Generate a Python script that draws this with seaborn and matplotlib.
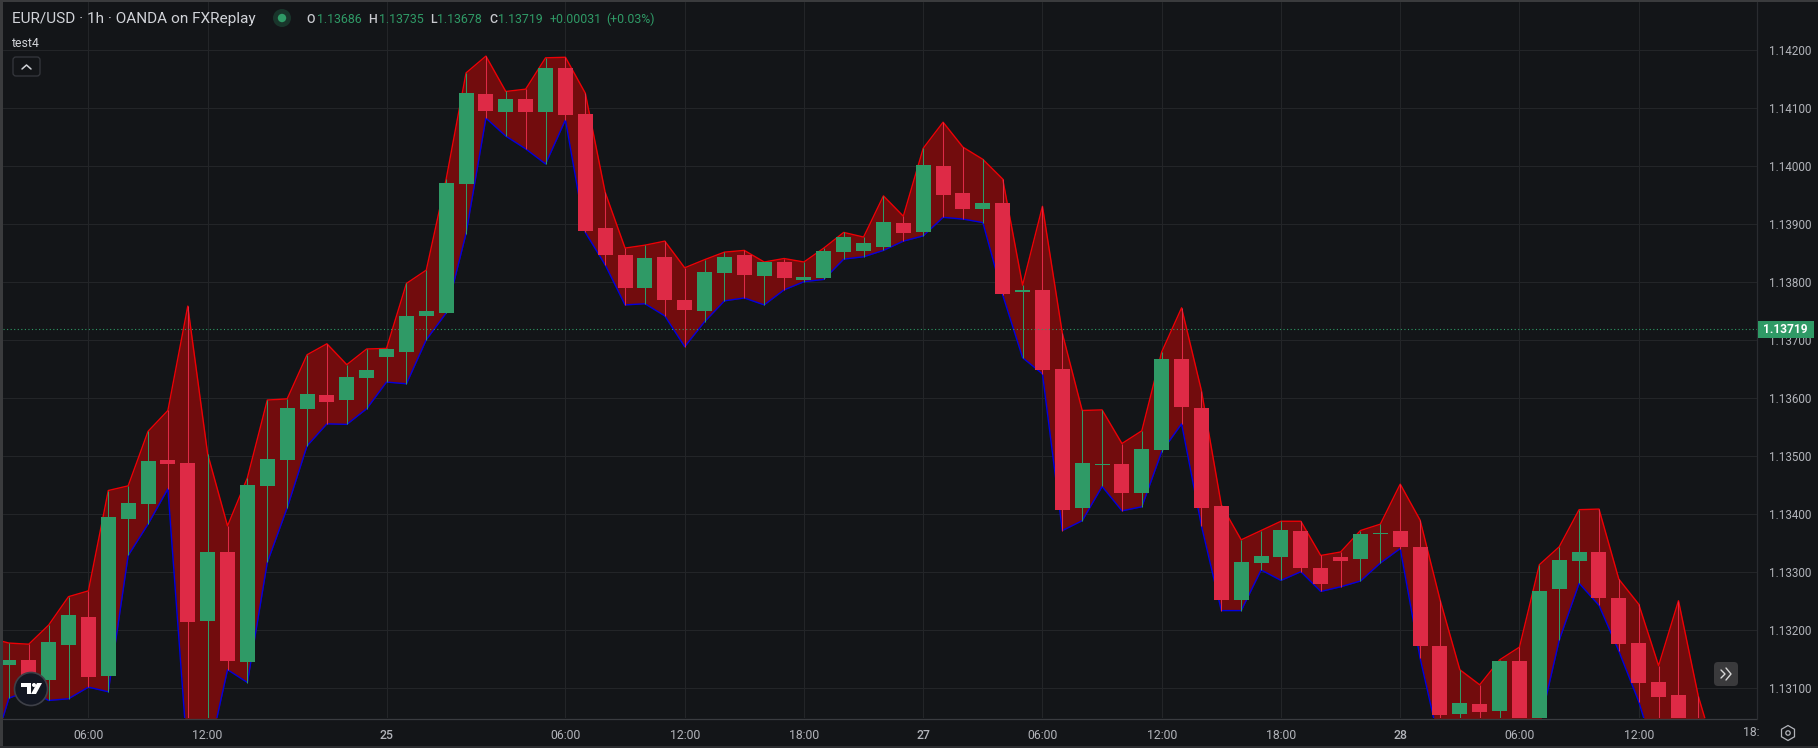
import numpy as np
import pandas as pd
import seaborn as sns
import matplotlib.pyplot as plt
from matplotlib.patches import Circle, FancyBboxPatch, Polygon, RegularPolygon, Rectangle

# prices, in 1e-5 units above 1.0
highs = [113187, 113178, 113176, 113209, 113258, 113268, 113441, 113449, 113543, 113579, 113759,
         113504, 113380, 113463, 113597, 113599, 113675, 113694, 113658, 113685, 113686,
         113798, 113821, 113978, 114161, 114190, 114129, 114133, 114187, 114188, 114126,
         113955, 113859, 113864, 113871, 113825, 113839, 113852, 113855, 113835, 113841,
         113835, 113859, 113886, 113878, 113949, 113914, 114031, 114076, 114033, 114012,
         113978, 113795, 113931, 113712, 113579, 113580, 113522, 113544, 113680, 113756,
         113613, 113416, 113356, 113372, 113388, 113388, 113329, 113335, 113372, 113383,
         113452, 113390, 113253, 113132, 113106, 113149, 113171, 113313, 113344, 113408,
         113409, 113288, 113245, 113139, 113251, 113086, 112971]
lows = [112971, 113083, 113096, 113079, 113082, 113102, 113094, 113329, 113383, 113444, 112976,
        112977, 113132, 113110, 113317, 113411, 113518, 113556, 113555, 113582, 113628,
        113625, 113701, 113747, 113884, 114083, 114052, 114030, 114004, 114080, 113886,
        113830, 113761, 113763, 113742, 113689, 113732, 113768, 113773, 113761, 113787,
        113801, 113805, 113840, 113844, 113855, 113871, 113880, 113912, 113909, 113903,
        113778, 113670, 113642, 113372, 113389, 113448, 113406, 113413, 113508, 113556,
        113380, 113234, 113234, 113304, 113286, 113301, 113267, 113275, 113285, 113316,
        113341, 113152, 113001, 112968, 112962, 112976, 112999, 113034, 113183, 113281,
        113243, 113164, 113077, 112965, 112953, 112942, 112907]
opens = [113130, 113140, 113149, 113114, 113175, 113223, 113121, 113392, 113418, 113494, 113489,
         113216, 113335, 113145, 113449, 113494, 113582, 113606, 113597, 113635, 113671,
         113680, 113742, 113747, 113970, 114125, 114094, 114116, 114094, 114170, 114090,
         113894, 113847, 113790, 113844, 113770, 113751, 113816, 113847, 113811, 113835,
         113804, 113807, 113852, 113854, 113861, 113902, 113887, 114001, 113954, 113926,
         113937, 113783, 113787, 113651, 113411, 113485, 113487, 113437, 113511, 113668,
         113583, 113414, 113252, 113316, 113326, 113371, 113308, 113326, 113323, 113366,
         113371, 113344, 113173, 113056, 113073, 113061, 113147, 113037, 113271, 113320,
         113335, 113256, 113178, 113111, 113088, 113022, 112982]
closes = [113140, 113149, 113117, 113180, 113226, 113120, 113395, 113420, 113492, 113487, 113215,
          113335, 113147, 113450, 113495, 113583, 113607, 113594, 113637, 113649, 113685,
          113742, 113751, 113971, 114126, 114095, 114116, 114094, 114170, 114088, 113888,
          113847, 113790, 113842, 113770, 113752, 113818, 113844, 113813, 113835, 113807,
          113809, 113854, 113878, 113868, 113904, 113885, 114002, 113951, 113926, 113937,
          113780, 113787, 113649, 113407, 113489, 113487, 113437, 113513, 113668, 113585,
          113411, 113252, 113318, 113328, 113373, 113308, 113280, 113320, 113366, 113368,
          113344, 113173, 113054, 113075, 113059, 113147, 113028, 113268, 113321, 113335,
          113256, 113176, 113109, 113085, 113028, 112982, 112950]

time_ticks = [4, 10, 19, 28, 34, 40, 46, 52, 58, 64, 70, 76, 82]
time_labels = ['06:00', '12:00', '25', '06:00', '12:00', '18:00', '27', '06:00', '12:00', '18:00',
               '28', '06:00', '12:00']
price_ticks = [1.131, 1.132, 1.133, 1.134, 1.135, 1.136, 1.137, 1.138, 1.139, 1.140, 1.141, 1.142]
last_price = 1.13719

BG = '#131518'
GRID = '#232528'
GREEN = '#2f9a66'
RED = '#de2a46'
FILL = '#720c0d'
TEXT = '#b2b4ba'

sns.set_theme(style='darkgrid', rc={
    'figure.facecolor': BG, 'axes.facecolor': BG, 'grid.color': GRID, 'grid.linewidth': 0.8,
    'axes.edgecolor': BG, 'axes.linewidth': 0,
})
plt.rcParams['font.family'] = ['Roboto', 'DejaVu Sans']

df = pd.DataFrame({'bar': np.arange(len(highs)) - 1})
df['high'] = np.array(highs) / 1e5
df['low'] = np.array(lows) / 1e5
df['open'] = np.array(opens) / 1e5
df['close'] = np.array(closes) / 1e5
df['top'] = df[['open', 'close']].max(axis=1)
df['bottom'] = df[['open', 'close']].min(axis=1)
df['colour'] = np.where(df['close'] >= df['open'], GREEN, RED)

W, H = 1818, 748
fig = plt.figure(figsize=(W / 100, H / 100), dpi=100)
ax = fig.add_axes([3 / W, 1 - 718 / H, (1757 - 3) / W, (718 - 2) / H])

ax.fill_between(df['bar'], df['low'], df['high'], color=FILL, lw=0, zorder=2)
sns.lineplot(data=df, x='bar', y='high', color='#ee0005', lw=1.0, ax=ax, zorder=3, estimator=None)
sns.lineplot(data=df, x='bar', y='low', color='#0000e0', lw=1.0, ax=ax, zorder=3, estimator=None)
ax.vlines(df['bar'], df['low'], df['high'], colors=df['colour'], lw=0.75, zorder=4)
ax.bar(df['bar'], df['top'] - df['bottom'], bottom=df['bottom'], width=0.755, color=df['colour'],
       lw=0, zorder=5)
ax.axhline(last_price, color=GREEN, lw=0.8, ls=(0, (1, 2.2)), zorder=6)

ax.set_xlim(-0.297, 87.95)
ax.set_ylim(1.142 - (718 - 50.3) / 58000, 1.142 + (50.3 - 2) / 58000)
ax.set_xticks(time_ticks, time_labels)
ax.set_yticks(price_ticks, [f'{p:.5f}' for p in price_ticks])
ax.yaxis.tick_right()
ax.set_xlabel('')
ax.set_ylabel('')
ax.tick_params(axis='x', length=0, pad=8, labelsize=8.8, colors=TEXT)
ax.tick_params(axis='y', length=0, pad=9, labelsize=8.4, colors=TEXT)
for lab in ax.get_xticklabels():
    if len(lab.get_text()) == 2:
        lab.set_fontweight('medium')

# the window furniture, in pixel coordinates of the screenshot
ui = fig.add_axes([0, 0, 1, 1], facecolor='none')
ui.set_xlim(0, W)
ui.set_ylim(H, 0)
ui.axis('off')
ui.add_patch(Rectangle((0, 0), W, 2, color='#3a3b3d', lw=0))
ui.add_patch(Rectangle((0, 0), 3, H, color='#3a3b3d', lw=0))
ui.add_patch(Rectangle((0, H - 2), W, 2, color='#2c2d30', lw=0))
ui.plot([3, 1757], [718.5, 718.5], color='#3a3c40', lw=0.9)
ui.plot([1757, 1757], [2, 718.5], color='#2a2c30', lw=0.9)

ui.text(12, 19, 'EUR/USD · 1h · OANDA on FXReplay', color='#d1d3d8', fontsize=11.1, va='center')
ui.add_patch(Circle((282, 18), 9, color='#19352b', lw=0))
ui.add_patch(Circle((282, 18), 4.2, color=GREEN, lw=0))
for x, s, c, wt in [(306.5, 'O', '#c8c9ce', 'medium'), (317.3, '1.13686', GREEN, 'normal'),
                    (368.5, 'H', '#c8c9ce', 'medium'), (378.7, '1.13735', GREEN, 'normal'),
                    (430, 'L', '#c8c9ce', 'medium'), (437.3, '1.13678', GREEN, 'normal'),
                    (489, 'C', '#c8c9ce', 'medium'), (498, '1.13719', GREEN, 'normal'),
                    (550, '+0.00031', GREEN, 'normal'), (606.5, '(+0.03%)', GREEN, 'normal')]:
    ui.text(x, 19, s, color=c, fontsize=8.9, fontweight=wt, va='center')
ui.text(12, 43, 'test4', color='#d1d3d8', fontsize=8.8, va='center')
ui.add_patch(FancyBboxPatch((13, 57), 27, 19, boxstyle='round,pad=0,rounding_size=3', fc=BG,
                            ec='#35373d', lw=0.9))
ui.plot([22, 26.5, 31], [69, 65, 69], color='#d1d3d8', lw=1.1)

ui.add_patch(Rectangle((1757.5, 321), 56, 17, color=GREEN, lw=0, zorder=8))
ui.text(1808, 329.5, f'{last_price:.5f}', color='white', fontsize=8.6, fontweight='bold',
        ha='right', va='center', zorder=9)

ui.text(1743, 732, '18:', color=TEXT, fontsize=8.8, va='center')
ui.add_patch(RegularPolygon((1788, 733), 6, radius=7.5, fc='none', ec=TEXT, lw=0.9))
ui.add_patch(Circle((1788, 733), 2.2, fc='none', ec=TEXT, lw=0.9))

ui.add_patch(FancyBboxPatch((1714, 662), 24, 24, boxstyle='round,pad=0,rounding_size=4', fc='#3a3a3c',
                            ec='none', zorder=8))
ui.plot([1721, 1725, 1721], [670, 674, 678], color='#d8d8d8', lw=1.0, zorder=9)
ui.plot([1726, 1731, 1726], [668, 674, 680], color='#d8d8d8', lw=1.0, zorder=9)

# tv logo badge
ui.add_patch(Circle((31, 689), 16.5, fc='#131722', ec='#3e4048', lw=1.2, zorder=8))
ui.add_patch(Polygon([(21, 683), (31, 683), (31, 694), (27, 694), (27, 687), (21, 687)], color='white',
                     lw=0, zorder=9))
ui.add_patch(Circle((34, 685), 2, color='white', lw=0, zorder=9))
ui.add_patch(Polygon([(37, 683), (42, 683), (36, 694), (31, 694)], color='white', lw=0, zorder=9))

fig.savefig('out.png', dpi=100, facecolor=BG)
